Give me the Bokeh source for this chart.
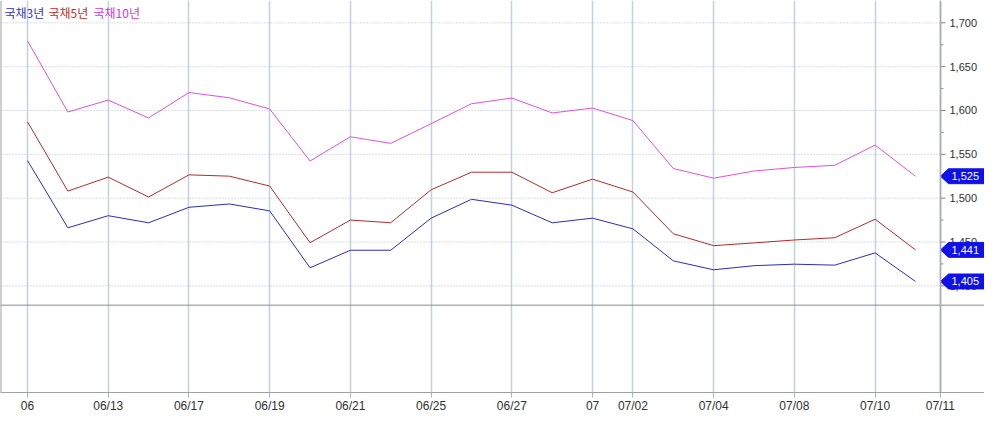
from bokeh.plotting import figure
from bokeh.models import Range1d, FixedTicker, Span, Label
from bokeh.core.properties import value
from bokeh.embed import file_html
from bokeh.resources import INLINE

# ---------------- data ----------------
dates = ["06/11", "06/12", "06/13", "06/14", "06/17", "06/18", "06/19", "06/20",
         "06/21", "06/24", "06/25", "06/26", "06/27", "06/28", "07/01", "07/02",
         "07/03", "07/04", "07/05", "07/08", "07/09", "07/10", "07/11"]

kr3 = [1542.9, 1466.2, 1480.0, 1471.9, 1489.6, 1493.4, 1485.5, 1420.6, 1440.6,
       1440.6, 1477.2, 1498.7, 1492.0, 1471.9, 1477.2, 1465.0, 1428.5, 1418.3,
       1423.0, 1424.7, 1423.6, 1437.6, 1405.0]
kr5 = [1587.0, 1508.1, 1524.0, 1501.3, 1526.6, 1525.1, 1513.8, 1449.2, 1475.0,
       1472.0, 1509.6, 1529.6, 1529.6, 1506.2, 1521.7, 1507.0, 1459.4, 1445.8,
       1449.0, 1452.3, 1454.9, 1476.0, 1441.0]
kr10 = [1679.4, 1598.3, 1611.9, 1591.5, 1620.5, 1614.5, 1601.7, 1542.4, 1570.0,
        1562.5, 1585.0, 1607.7, 1614.2, 1597.2, 1602.8, 1588.5, 1533.8, 1522.8,
        1531.0, 1535.0, 1537.5, 1560.6, 1525.0]

series_names = ["국채3년", "국채5년", "국채10년"]
line_colors = ["#2c2cb8", "#b02c2c", "#e050e0"]
legend_colors = ["#3434c4", "#d02828", "#e030e0"]

tick_index = [0, 2, 4, 6, 8, 10, 12, 14, 15, 17, 19, 21]
tick_labels = ["06", "06/13", "06/17", "06/19", "06/21", "06/25", "06/27",
               "07", "07/02", "07/04", "07/08", "07/10"]
last_label = "07/11"

y_ticks = [1400, 1450, 1500, 1550, 1600, 1650, 1700]
y_minor = [1425, 1475, 1525, 1575, 1625, 1675]

# ---------------- layout ----------------
W, H = 984, 415
AXW = 44                      # width of the right value-axis strip
BB = 20
FH = H - BB
PX_IDX = (W - AXW - 27) / 22.62   # px per trading day
PX_Y = 44.17 / 50                 # px per value unit
x0 = -27 / PX_IDX
x1 = x0 + (W - AXW) / PX_IDX      # position of the right value axis
x2 = x0 + W / PX_IDX              # right edge of the figure
y1 = 1700 + 22.5 / PX_Y
y0 = y1 - FH / PX_Y
divider = 1700 - (307 - 22.5) / PX_Y

ux = 1 / PX_IDX
uy = 1 / PX_Y

FONT = "Liberation Sans Narrow, Liberation Sans"
xs = list(range(len(dates)))

p = figure(width=W, height=H, output_backend="svg", toolbar_location=None,
           x_range=Range1d(x0, x2), y_range=Range1d(y0, y1),
           y_axis_location=None,
           min_border_left=0, min_border_right=0,
           min_border_top=0, min_border_bottom=BB)
p.outline_line_color = None
p.background_fill_color = "white"
p.border_fill_color = "white"
p.ygrid.visible = False

# x axis
ticks_x = tick_index + [x1 - 0.005]
labels_x = tick_labels + [last_label]
p.xaxis.ticker = FixedTicker(ticks=ticks_x)
p.xaxis.major_label_overrides = {t: l for t, l in zip(ticks_x, labels_x)}
p.xaxis.axis_line_color = "#a0a0a0"
p.xaxis.major_tick_out = 5
p.xaxis.major_tick_in = 0
p.xaxis.minor_tick_out = 0
p.xaxis.minor_tick_in = 0
p.xaxis.major_tick_line_color = "#a8b8c8"
p.xaxis.major_label_text_align = "left"
p.xaxis.major_label_standoff = 1
p.xaxis.major_label_text_font = FONT
p.xaxis.major_label_text_font_size = "12px"
p.xaxis.major_label_text_color = "#303030"

p.xgrid.grid_line_color = "#c4d0dc"
p.xgrid.grid_line_width = 1.5

# horizontal dotted grid (price area only, up to the value axis)
p.segment(x0=[x0] * len(y_ticks), y0=y_ticks, x1=[x1] * len(y_ticks), y1=y_ticks,
          line_color="#b4bec8", line_dash="1 2", line_width=1)

# frame lines
p.add_layout(Span(location=divider, dimension="width", line_color="#8a8a8a", line_width=1))
p.add_layout(Span(location=x0, dimension="height", line_color="#a0a0a0", line_width=2))
p.add_layout(Span(location=x1, dimension="height", line_color="#a8a8a8", line_width=1.5))

# value axis ticks and labels (right strip)
p.segment(x0=[x1] * len(y_ticks), y0=y_ticks, x1=[x1 + 5 * ux] * len(y_ticks), y1=y_ticks,
          line_color="#808080", line_width=1)
p.segment(x0=[x1] * len(y_minor), y0=y_minor, x1=[x1 + 3 * ux] * len(y_minor), y1=y_minor,
          line_color="#909090", line_width=1)
p.text(x=[x1 + 9 * ux] * len(y_ticks), y=y_ticks, text=[f"{t:,}" for t in y_ticks],
       text_font=value(FONT), text_font_size=value("11px"), text_color="#303030",
       text_baseline="middle", text_align="left")

# series
for ys, c in zip([kr3, kr5, kr10], line_colors):
    p.line(xs, ys, line_color=c, line_width=1)

# legend texts
offs = [4, 48, 93]
for name, c, o in zip(series_names, legend_colors, offs):
    p.add_layout(Label(x=x0, y=y1, x_offset=o, y_offset=-3, text=name,
                       text_color=c, text_font="Noto Sans CJK KR",
                       text_font_size="12px", text_baseline="top", text_align="left"))

# last value markers
last_vals = [kr10[-1], kr5[-1], kr3[-1]]
hh = 7.5 * uy
mk_xs, mk_ys = [], []
for v in last_vals:
    mk_xs.append([x1, x1 + 8 * ux, x2, x2, x1 + 8 * ux])
    mk_ys.append([v, v + hh, v + hh, v - hh, v - hh])
p.patches(mk_xs, mk_ys, fill_color="#1010e8", line_color="#1010e8", line_width=1)
p.text(x=[x1 + 11 * ux] * len(last_vals), y=last_vals,
       text=[f"{v:,.0f}" for v in last_vals],
       text_font=value(FONT), text_font_size=value("11px"), text_color="white",
       text_baseline="middle", text_align="left")

open("out.html", "w").write(file_html(p, INLINE))
